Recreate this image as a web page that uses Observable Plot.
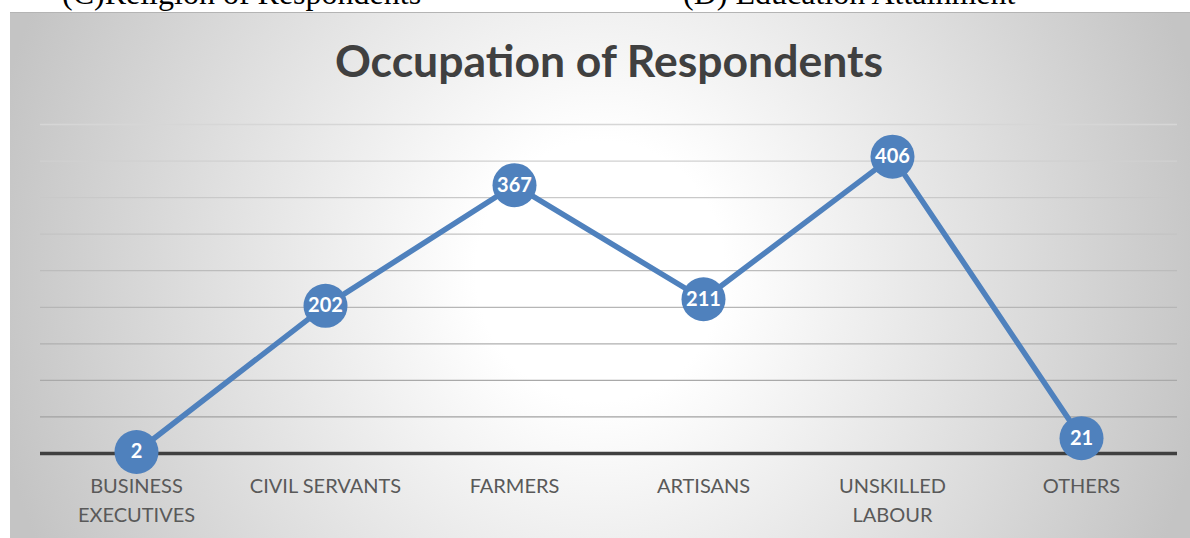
<!DOCTYPE html>
<html>
<head>
<meta charset="utf-8">
<script src="https://cdn.jsdelivr.net/npm/d3@7"></script>
<script src="https://cdn.jsdelivr.net/npm/@observablehq/plot@0.6"></script>
<style>
  body { margin: 0; background: #fff; }
  #page { position: relative; width: 1190px; height: 538px; overflow: hidden; background: #fff; }
  #box {
    position: absolute; left: 10px; top: 12px; width: 1180px; height: 526px;
    box-sizing: border-box; border-top: 1px solid #b4b4b4;
    background: radial-gradient(ellipse 620px 650px at 590px 258px, #ffffff 0%, #ffffff 20%, #c4c4c4 100%);
  }
  .cap {
    position: absolute; top: -23px; font-family: "Liberation Serif", "Times New Roman", serif;
    font-size: 32px; line-height: 32px; color: #000; white-space: nowrap;
  }
  #chart { position: absolute; left: 0; top: 0; }
</style>
</head>
<body>
<div id="page">
  <div id="box"></div>
  <div class="cap" style="left:62px">(C)Religion of Respondents</div>
  <div class="cap" style="left:683px">(D) Education Attainment</div>
  <div id="chart"></div>
</div>
<script>
const chartTitle = "Occupation of Respondents";
const categories = ["BUSINESS\nEXECUTIVES", "CIVIL SERVANTS", "FARMERS", "ARTISANS", "UNSKILLED\nLABOUR", "OTHERS"];
const counts = [2, 202, 367, 211, 406, 21];
const gridValues = [50, 100, 150, 200, 250, 300, 350, 400, 450];

const data = categories.map((c, i) => ({category: c, value: counts[i]}));

const chart = Plot.plot({
  width: 1190,
  height: 538,
  marginLeft: 40,
  marginRight: 13,
  marginTop: 124,
  marginBottom: 85,
  style: {background: "transparent", fontFamily: "Lato, sans-serif", overflow: "visible"},
  x: {type: "point", domain: categories, padding: 0.5, axis: null, label: null},
  y: {domain: [0, 450], axis: null},
  marks: [
    Plot.ruleY(gridValues, {
      stroke: d => d3.interpolateRgb("#9c9c9c", "#d6d6d6")(d / 450),
      strokeWidth: 1.3
    }),
    Plot.ruleY([0], {stroke: "#404040", strokeWidth: 3.3}),
    Plot.axisX({
      label: null,
      tickSize: 0, tickPadding: 19, fontSize: 20, lineHeight: 1.45,
      fill: "#595959", color: "#595959", fontFamily: "Lato, sans-serif"
    }),
    Plot.lineY(data, {x: "category", y: "value", stroke: "#4f81bd", strokeWidth: 5.5}),
    Plot.dot(data, {x: "category", y: "value", r: 22, fill: "#4f81bd", stroke: "none"}),
    Plot.text(data, {
      x: "category", y: "value", text: d => String(d.value),
      fill: "white", fontSize: 20, fontWeight: "bold", lineAnchor: "middle"
    }),
    Plot.text([chartTitle], {
      frameAnchor: "top", dy: -62, lineAnchor: "middle",
      fontSize: 44.5, fontWeight: "bold", fill: "#404040"
    })
  ]
});
document.getElementById("chart").appendChild(chart);
</script>
</body>
</html>
